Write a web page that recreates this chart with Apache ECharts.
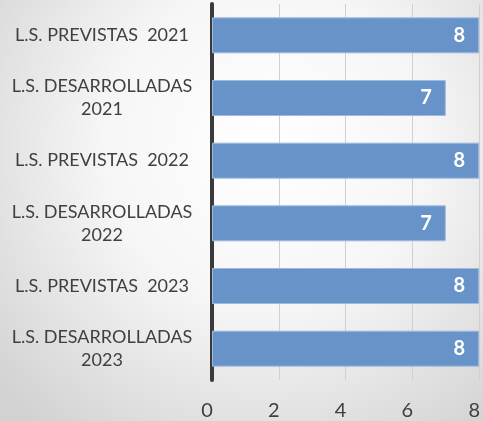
<!DOCTYPE html>
<html>
<head>
<meta charset="utf-8">
<script src="https://cdn.jsdelivr.net/npm/echarts@6/dist/echarts.min.js"></script>
<style>html,body{margin:0;padding:0;}#c{width:483px;height:421px;}</style>
</head>
<body>
<div id="c"></div>
<script>
const categories = [
  'L.S. PREVISTAS  2021',
  'L.S. DESARROLLADAS\n2021',
  'L.S. PREVISTAS  2022',
  'L.S. DESARROLLADAS\n2022',
  'L.S. PREVISTAS  2023',
  'L.S. DESARROLLADAS\n2023'
];
const values = [8, 7, 8, 7, 8, 8];
const xTicks = [0, 2, 4, 6, 8];

const chart = echarts.init(document.getElementById('c'));
chart.setOption({
  animation: false,
  backgroundColor: {
    type: 'radial', x: 0.55, y: 0.35, r: 0.85,
    colorStops: [{offset: 0, color: '#ffffff'}, {offset: 0.45, color: '#f6f6f6'}, {offset: 1, color: '#d2d2d2'}]
  },
  grid: {left: 212, right: -1, top: 4, bottom: 41, containLabel: false},
  xAxis: {
    type: 'value', min: xTicks[0], max: xTicks[xTicks.length - 1], interval: 2,
    axisLine: {show: false}, axisTick: {show: false},
    splitLine: {show: true, lineStyle: {color: '#d0d0d0', width: 1}},
    axisLabel: {color: '#404040', fontFamily: 'Lato', fontSize: 20, margin: 21, padding: [0, 10, 0, 0],
      showMaxLabel: true}
  },
  yAxis: {
    type: 'category', data: categories, inverse: true,
    axisLine: {show: true, lineStyle: {color: '#3a3a3a', width: 4}},
    axisTick: {show: false},
    axisLabel: {color: '#404040', fontFamily: 'Lato', fontSize: 18, align: 'center', margin: 110, lineHeight: 23}
  },
  series: [{
    type: 'bar', data: values, barWidth: 36,
    itemStyle: {color: '#6893c8', borderColor: '#9dbbe2', borderWidth: 1},
    label: {show: true, position: 'insideRight', distance: 14, color: '#ffffff', fontFamily: 'Lato', fontWeight: 'bold', fontSize: 20}
  }]
});
</script>
</body>
</html>
